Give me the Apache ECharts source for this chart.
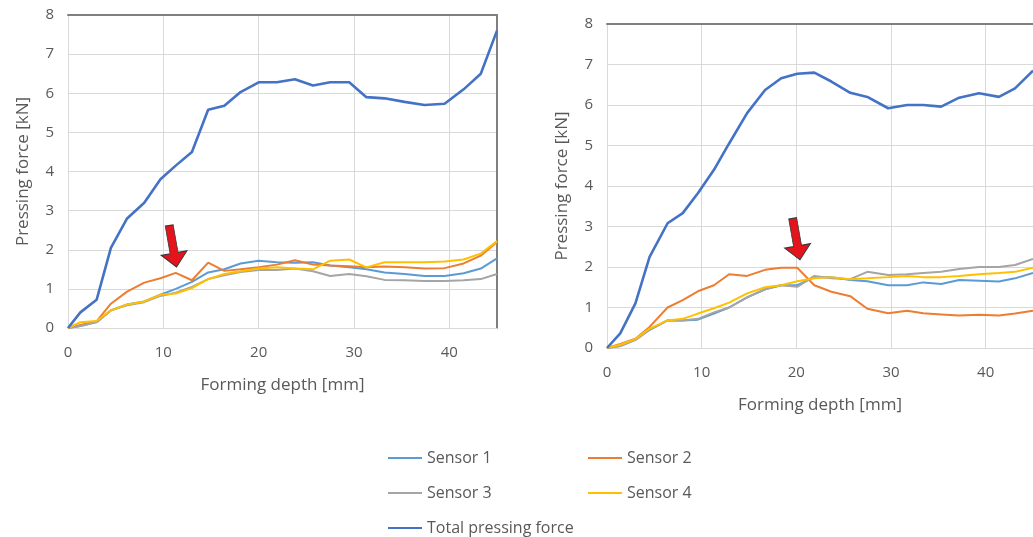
<!DOCTYPE html>
<html>
<head>
<meta charset="utf-8">
<script src="https://cdn.jsdelivr.net/npm/echarts@6/dist/echarts.min.js"></script>
<style>
  html, body { margin: 0; padding: 0; background: #fff; }
  #LineChart { width: 1033px; height: 537px; }
</style>
</head>
<body>
<div id="LineChart"></div>
<script>
/* 左图数据 */
const leftDepth = [0, 1.3, 3, 4.5, 6.2, 8, 9.7, 11.3, 13, 14.7, 16.4, 18.1, 20, 21.9, 23.8, 25.7, 27.5, 29.5, 31.3, 33.2, 35.3, 37.4, 39.5, 41.5, 43.3, 45];
const leftTotal = [0, 0.4, 0.72, 2.05, 2.8, 3.2, 3.8, 4.15, 4.5, 5.58, 5.68, 6.03, 6.28, 6.28, 6.36, 6.2, 6.28, 6.28, 5.9, 5.87, 5.78, 5.7, 5.73, 6.1, 6.5, 7.6];
const leftS1 = [0, 0.05, 0.15, 0.45, 0.6, 0.68, 0.85, 1.0, 1.18, 1.42, 1.5, 1.65, 1.72, 1.68, 1.67, 1.68, 1.6, 1.55, 1.5, 1.42, 1.38, 1.33, 1.33, 1.4, 1.52, 1.78];
const leftS2 = [0, 0.08, 0.17, 0.62, 0.93, 1.16, 1.27, 1.41, 1.22, 1.67, 1.46, 1.5, 1.55, 1.62, 1.73, 1.62, 1.6, 1.58, 1.55, 1.57, 1.55, 1.52, 1.53, 1.65, 1.85, 2.2];
const leftS3 = [0, 0.05, 0.15, 0.45, 0.58, 0.66, 0.82, 0.9, 1.05, 1.25, 1.35, 1.43, 1.48, 1.48, 1.52, 1.45, 1.33, 1.38, 1.32, 1.23, 1.22, 1.2, 1.2, 1.22, 1.25, 1.38];
const leftS4 = [0, 0.15, 0.18, 0.45, 0.6, 0.68, 0.85, 0.88, 1.02, 1.25, 1.38, 1.45, 1.52, 1.55, 1.52, 1.5, 1.72, 1.75, 1.55, 1.68, 1.68, 1.68, 1.7, 1.75, 1.9, 2.22];

/* 右图数据 */
const rightDepth = [0, 1.4, 3, 4.5, 6.4, 8, 9.6, 11.3, 12.9, 14.8, 16.7, 18.4, 20.1, 21.9, 23.7, 25.7, 27.5, 29.7, 31.7, 33.4, 35.3, 37.2, 39.3, 41.4, 43.1, 45];
const rightTotal = [0, 0.36, 1.1, 2.25, 3.08, 3.33, 3.82, 4.4, 5.05, 5.8, 6.37, 6.66, 6.77, 6.8, 6.58, 6.3, 6.2, 5.92, 6.0, 6.0, 5.96, 6.18, 6.29, 6.2, 6.41, 6.85];
const rightS1 = [0, 0.05, 0.2, 0.45, 0.68, 0.68, 0.7, 0.85, 1.0, 1.25, 1.45, 1.55, 1.55, 1.75, 1.75, 1.68, 1.65, 1.55, 1.55, 1.62, 1.58, 1.68, 1.66, 1.64, 1.72, 1.85];
const rightS2 = [0, 0.1, 0.23, 0.52, 1.0, 1.18, 1.4, 1.55, 1.82, 1.78, 1.93, 1.98, 1.98, 1.55, 1.39, 1.28, 0.97, 0.86, 0.92, 0.86, 0.83, 0.8, 0.82, 0.8, 0.85, 0.92];
const rightS3 = [0, 0.05, 0.2, 0.45, 0.68, 0.68, 0.72, 0.88, 1.0, 1.25, 1.45, 1.55, 1.51, 1.78, 1.72, 1.7, 1.88, 1.8, 1.82, 1.85, 1.88, 1.95, 2.0, 2.0, 2.05, 2.2];
const rightS4 = [0, 0.08, 0.22, 0.48, 0.68, 0.72, 0.85, 0.98, 1.12, 1.35, 1.5, 1.55, 1.65, 1.72, 1.75, 1.7, 1.72, 1.75, 1.78, 1.75, 1.75, 1.78, 1.82, 1.85, 1.88, 1.98];

/* 箭头位置 [深度, 力] */
const leftArrow = [11.0, 2.09];
const rightArrow = [20.0, 2.69];

const names = ["Sensor 1", "Sensor 2", "Sensor 3", "Sensor 4", "Total pressing force"];
const colors = ["#5B9BD5", "#ED7D31", "#A5A5A5", "#FFC000", "#4472C4"];
const yTicks = [0, 1, 2, 3, 4, 5, 6, 7, 8];

const textColor = "#595959";
const gridColor = "#d9d9d9";
const borderColor = "#7f7f7f";
const font = "Open Sans";

function zip(xs, ys) {
  return xs.map((x, i) => [x, ys[i]]);
}

// 红色箭头(细杆+宽头)
const arrowPath = "path://M9,0 L17,0 L17,28 L26,28 L13,42 L0,28 L9,28 Z";

function makeXAxis(gridIndex) {
  return {
    gridIndex: gridIndex,
    type: "value",
    min: 0,
    max: 45,
    interval: 10,
    name: "Forming depth [mm]",
    nameLocation: "middle",
    nameGap: 49,
    nameTextStyle: { color: textColor, fontSize: 17, fontFamily: font },
    axisLine: { show: true, lineStyle: { color: gridColor, width: 1 } },
    axisTick: { show: false },
    axisLabel: { color: textColor, fontSize: 15, fontFamily: font, margin: 17, showMaxLabel: false },
    splitLine: { show: true, lineStyle: { color: gridColor, width: 1 } },
  };
}

function makeYAxis(gridIndex) {
  return {
    gridIndex: gridIndex,
    type: "value",
    min: yTicks[0],
    max: yTicks[yTicks.length - 1],
    interval: 1,
    name: "Pressing force [kN]",
    nameLocation: "middle",
    nameGap: 36,
    nameTextStyle: { color: textColor, fontSize: 17, fontFamily: font },
    axisLine: { show: true, lineStyle: { color: gridColor, width: 1 } },
    axisTick: { show: false },
    axisLabel: { color: textColor, fontSize: 15, fontFamily: font, margin: 14 },
    splitLine: { show: true, lineStyle: { color: gridColor, width: 1 } },
  };
}

// 外框线(上/右)
function borderAxis(kind, gridIndex, position) {
  return {
    gridIndex: gridIndex,
    type: "value",
    position: position,
    min: 0,
    max: kind === "x" ? 45 : 8,
    axisLine: { show: true, onZero: false, lineStyle: { color: borderColor, width: 2 } },
    axisTick: { show: false },
    axisLabel: { show: false },
    splitLine: { show: false },
  };
}

function makeSeries(depth, sets, gridIndex, arrowAt) {
  return sets.map((vals, i) => {
    let s = {
      name: names[i],
      type: "line",
      xAxisIndex: gridIndex === 0 ? 0 : 2,
      yAxisIndex: gridIndex === 0 ? 0 : 2,
      data: zip(depth, vals),
      symbol: "none",
      smooth: false,
      lineStyle: { color: colors[i], width: i === 4 ? 2.6 : 2 },
      itemStyle: { color: colors[i] },
      z: i === 4 ? 5 : 3,
    };
    if (i === 1) {
      s.markPoint = {
        silent: true,
        symbol: arrowPath,
        symbolSize: [26, 42],
        symbolRotate: 10,
        itemStyle: { color: "#E5131B", borderColor: "#3a3a3a", borderWidth: 1 },
        label: { show: false },
        data: [{ coord: arrowAt }],
      };
    }
    return s;
  });
}

function legendItem(name, left, top) {
  return {
    data: [name],
    left: left,
    top: top,
    icon: "rect",
    itemWidth: 34,
    itemHeight: 2,
    itemGap: 0,
    textStyle: { color: textColor, fontSize: 16, fontFamily: font, lineHeight: 20 },
  };
}

let myChart = echarts.init(document.getElementById("LineChart"));

let option = {
  backgroundColor: "#ffffff",
  animation: false,
  grid: [
    { left: 68, top: 15, width: 429, height: 313 },
    { left: 607, top: 24, width: 431, height: 324 },
  ],
  xAxis: [
    makeXAxis(0),
    borderAxis("x", 0, "top"),
    makeXAxis(1),
    borderAxis("x", 1, "top"),
  ],
  yAxis: [
    makeYAxis(0),
    borderAxis("y", 0, "right"),
    makeYAxis(1),
  ],
  legend: [
    legendItem(names[0], 383, 443),
    legendItem(names[1], 583, 443),
    legendItem(names[2], 383, 478),
    legendItem(names[3], 583, 478),
    legendItem(names[4], 383, 513),
  ],
  series: [].concat(
    makeSeries(leftDepth, [leftS1, leftS2, leftS3, leftS4, leftTotal], 0, leftArrow),
    makeSeries(rightDepth, [rightS1, rightS2, rightS3, rightS4, rightTotal], 1, rightArrow)
  ),
};

myChart.setOption(option);
</script>
</body>
</html>
